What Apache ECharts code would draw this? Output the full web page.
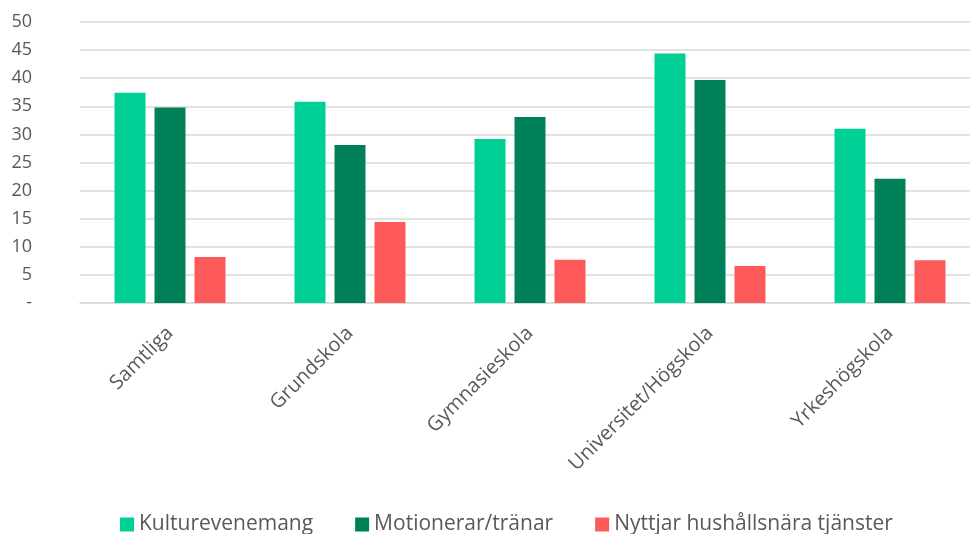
<!DOCTYPE html>
<html>
<head>
<meta charset="utf-8">
<script src="https://cdn.jsdelivr.net/npm/echarts@6/dist/echarts.min.js"></script>
<style>
  html, body { margin: 0; padding: 0; background: #fff; }
  #chart { width: 970px; height: 534px; }
</style>
</head>
<body>
<div id="chart"></div>
<script>
var categories = ['Samtliga', 'Grundskola', 'Gymnasieskola', 'Universitet/Högskola', 'Yrkeshögskola'];
var seriesNames = ['Kulturevenemang', 'Motionerar/tränar', 'Nyttjar hushållsnära tjänster'];
var kultur = [37.4, 35.8, 29.2, 44.4, 31.0];
var motion = [34.8, 28.1, 33.1, 39.7, 22.1];
var nyttjar = [8.2, 14.4, 7.7, 6.6, 7.6];
var colors = ['#00D096', '#008058', '#FF5A5A'];

var chart = echarts.init(document.getElementById('chart'));
var font = '"Open Sans", "Noto Sans", sans-serif';

var option = {
    animation: false,
    color: colors,
    textStyle: { fontFamily: font },
    grid: {
        left: 80,
        width: 900,
        top: 22,
        bottom: 231,
        containLabel: false,
        outerBoundsMode: 'none'
    },
    legend: {
        bottom: -6,
        left: 115,
        itemWidth: 14,
        itemHeight: 14,
        itemGap: 42,
        icon: 'rect',
        textStyle: { fontSize: 21, color: '#595959', fontFamily: font },
        data: seriesNames
    },
    xAxis: {
        type: 'category',
        data: categories,
        axisTick: { show: false },
        axisLine: { lineStyle: { color: '#d9d9d9', width: 1.5 } },
        axisLabel: {
            rotate: 45,
            interval: 0,
            fontSize: 20,
            color: '#595959',
            margin: 27
        }
    },
    yAxis: {
        type: 'value',
        min: 0,
        max: 50,
        interval: 5,
        axisLine: { show: false },
        axisTick: { show: false },
        splitLine: { lineStyle: { color: '#d9d9d9', width: 1.5 } },
        axisLabel: {
            fontSize: 18,
            color: '#595959',
            margin: 48,
            align: 'right',
            formatter: function (v) { return v === 0 ? '-' : v; }
        }
    },
    series: [
        { name: seriesNames[0], type: 'bar', data: kultur, barWidth: 31, barGap: '29%' },
        { name: seriesNames[1], type: 'bar', data: motion, barWidth: 31, barGap: '29%' },
        { name: seriesNames[2], type: 'bar', data: nyttjar, barWidth: 31, barGap: '29%' }
    ]
};
chart.setOption(option);
</script>
</body>
</html>
